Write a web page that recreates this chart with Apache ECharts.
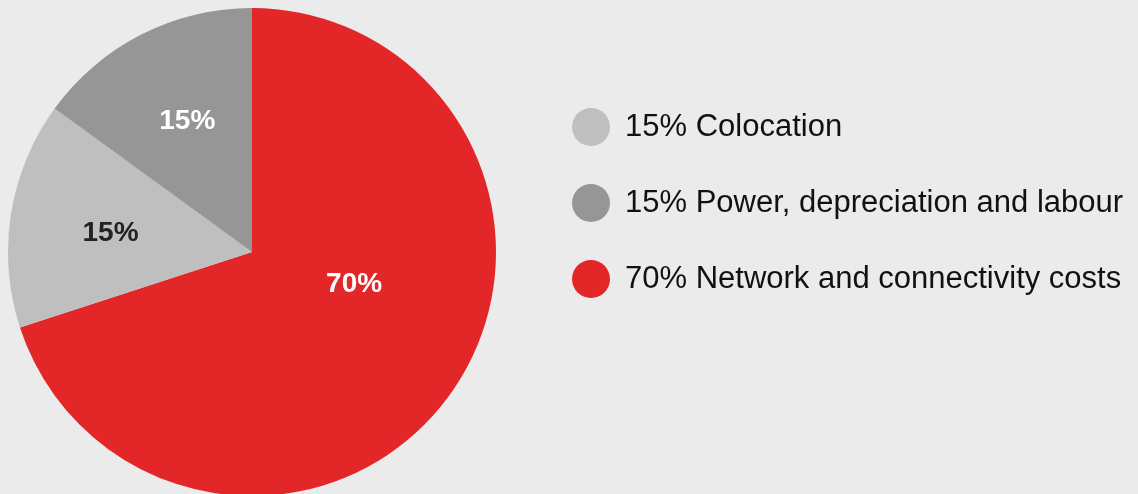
<!DOCTYPE html>
<html>
<head>
<meta charset="utf-8">
<script src="https://cdn.jsdelivr.net/npm/echarts@6/dist/echarts.min.js"></script>
<style>
  html, body { margin: 0; padding: 0; background: #eaebea; }
  #chart { width: 1138px; height: 494px; }
</style>
</head>
<body>
<div id="chart"></div>
<script>
// Cost breakdown, drawn clockwise from 12 o'clock
const names = ['Network and connectivity costs', 'Colocation', 'Power, depreciation and labour'];
const shares = [70, 15, 15];
const colors = ['#e32628', '#bfbfbf', '#969696'];
const labelColors = ['#ffffff', '#222222', '#ffffff'];
const labelOffsets = [[1, -41], [-18, 1], [-8, -19]];
const legendOrder = ['Colocation', 'Power, depreciation and labour', 'Network and connectivity costs'];

const FONT = '"Liberation Sans", Arial, Helvetica, sans-serif';

const chart = echarts.init(document.getElementById('chart'));
const data = names.map((n, i) => ({
  name: n,
  value: shares[i],
  itemStyle: { color: colors[i] },
  label: { color: labelColors[i], offset: labelOffsets[i] }
}));

chart.setOption({
  backgroundColor: '#eaebea',
  animation: false,
  legend: {
    orient: 'vertical',
    left: 567,
    top: 103,
    data: legendOrder,
    icon: 'circle',
    itemWidth: 38,
    itemHeight: 38,
    itemGap: 38,
    formatter: n => shares[names.indexOf(n)] + '% ' + n,
    textStyle: {
      fontFamily: FONT,
      fontSize: 31,
      color: '#111111',
      padding: [0, 0, 0, 10]
    }
  },
  series: [{
    type: 'pie',
    center: [252, 252],
    radius: 244,
    startAngle: 90,
    clockwise: true,
    silent: true,
    label: {
      position: 'inside',
      formatter: '{c}%',
      fontFamily: FONT,
      fontWeight: 'bold',
      fontSize: 28
    },
    labelLine: { show: false },
    itemStyle: { borderWidth: 0 },
    data: data
  }]
});
</script>
</body>
</html>
